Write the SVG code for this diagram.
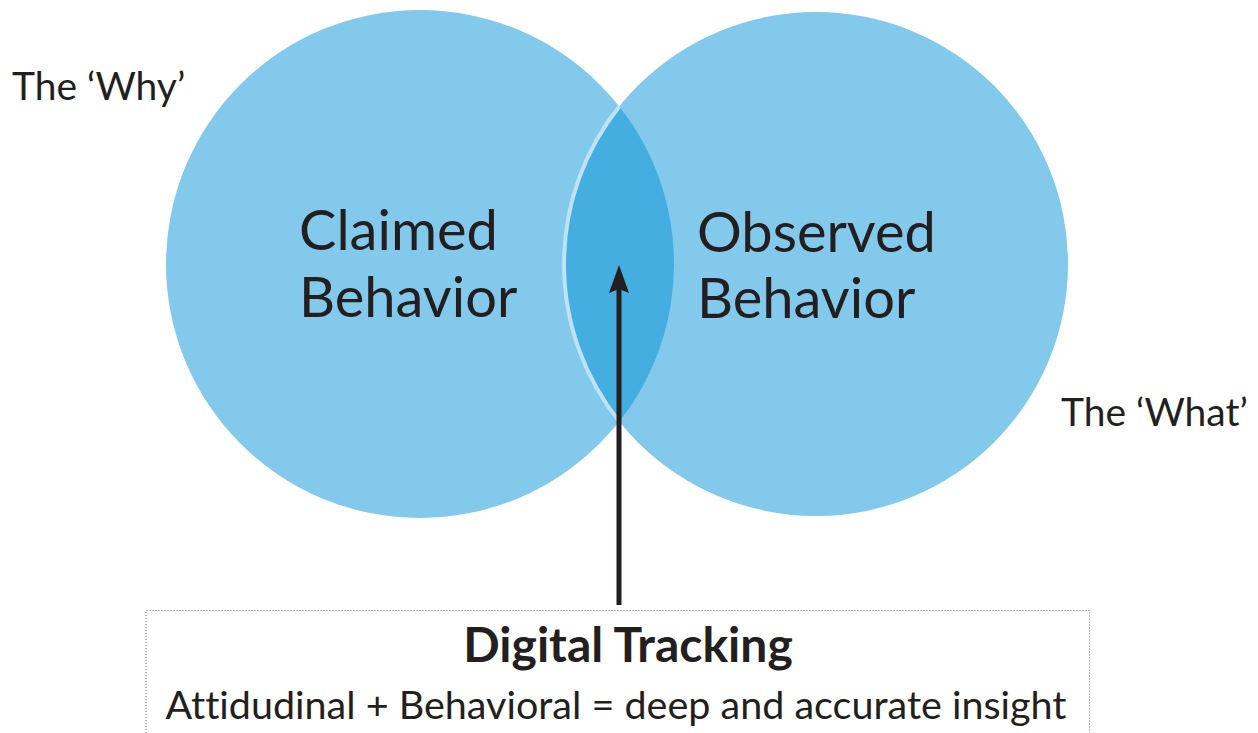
<svg xmlns="http://www.w3.org/2000/svg" width="1258" height="733" viewBox="0 0 1258 733">
<defs>
<style>
text{font-variant-ligatures:none}
.circ{fill:#82c9eb}
.lens{fill:#45aee0}
.big{font-family:Lato,"Open Sans",sans-serif;font-size:56px;fill:#231f20}
.side{font-family:Lato,"Open Sans",sans-serif;font-size:39px;fill:#231f20}
.title{font-family:Lato,"Open Sans",sans-serif;font-size:48px;font-weight:bold;fill:#231f20}
.sub{font-family:Lato,"Open Sans",sans-serif;font-size:39.5px;fill:#231f20}
</style>
<marker id="ah" viewBox="0 0 28 20" refX="8" refY="10" markerWidth="28" markerHeight="20" markerUnits="userSpaceOnUse" orient="auto">
<path d="M28 10 L0 0 L4 10 L0 20 Z" fill="#231f20"/>
</marker>
</defs>
<rect width="1258" height="733" fill="#fff"/>
<g id="claimed">
<circle class="circ" cx="420" cy="264" r="254"/>
<text class="big" x="299" y="250">Claimed</text>
<text class="big" x="299" y="317">Behavior</text>
</g>
<g id="observed">
<circle class="circ" cx="816" cy="264" r="252"/>
</g>
<g id="overlap">
<path class="lens" d="M619.3 106.5 A254 254 0 0 1 619.3 421.5 A252 252 0 0 1 619.3 106.5 Z"/>
<path d="M619.3 106.5 A252 252 0 0 0 619.3 421.5" fill="none" stroke="#bde3f4" stroke-width="4"/>
</g>
<g id="observed-label">
<text class="big" x="697" y="252">Observed</text>
<text class="big" x="697" y="318">Behavior</text>
</g>
<g id="why"><text class="side" x="12" y="100">The ‘Why’</text></g>
<g id="what"><text class="side" x="1061" y="426">The ‘What’</text></g>
<g id="connectors">
<line x1="619" y1="605" x2="619" y2="285" stroke="#231f20" stroke-width="5" marker-end="url(#ah)"/>
</g>
<g id="tracking">
<path d="M146 733 V610.5 H1089.5 V733" fill="none" stroke="#777" stroke-width="1" stroke-dasharray="1 2"/>
<text class="title" x="628" y="662" text-anchor="middle">Digital Tracking</text>
<text class="sub" x="616" y="719" text-anchor="middle">Attidudinal + Behavioral = deep and accurate insight</text>
</g>
</svg>
